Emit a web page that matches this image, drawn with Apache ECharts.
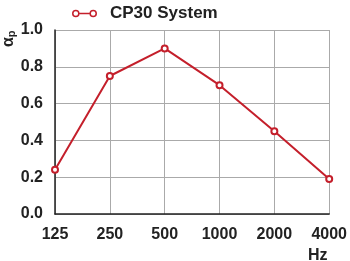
<!DOCTYPE html>
<html><head><meta charset="utf-8">
<script src="https://cdn.jsdelivr.net/npm/echarts@6/dist/echarts.min.js"></script>
<style>html,body{margin:0;padding:0;background:#fff}#c{width:350px;height:261px}</style>
</head><body><div id="c"></div>
<script>
const categories = ['125','250','500','1000','2000','4000'];
const seriesName = 'CP30 System';
const values = [0.24, 0.75, 0.90, 0.70, 0.45, 0.19];
const yTicks = [0, 0.2, 0.4, 0.6, 0.8, 1.0];

const red = '#c41f2b';
const font = 'Liberation Sans, Arial, sans-serif';
const ringIcon = 'path://M0.5 4A3.5 3.5 0 1 0 7.5 4A3.5 3.5 0 1 0 0.5 4ZM1.9 4A2.1 2.1 0 1 1 6.1 4A2.1 2.1 0 1 1 1.9 4ZM7.5 3.3L16.5 3.3L16.5 4.7L7.5 4.7ZM16.5 4A3.5 3.5 0 1 0 23.5 4A3.5 3.5 0 1 0 16.5 4ZM17.9 4A2.1 2.1 0 1 1 22.1 4A2.1 2.1 0 1 1 17.9 4Z';

const chart = echarts.init(document.getElementById('c'), null, {renderer:'canvas'});
chart.setOption({
  animation: false,
  backgroundColor: '#fff',
  textStyle: {fontFamily: font},
  grid: {left: 55, right: 13, top: 30, bottom: 47},
  legend: {
    data: [{name: seriesName, icon: ringIcon}],
    left: 67, top: 0,
    itemWidth: 25, itemHeight: 9,
    itemStyle: {color: red, borderWidth: 0},
    textStyle: {fontSize: 17, fontWeight: 'bold', color: '#222', fontFamily: font, padding: [0,0,0,8]}
  },
  xAxis: {
    type: 'category', data: categories, boundaryGap: false,
    axisLine: {lineStyle: {color: '#222', width: 1.5}},
    axisTick: {show: false},
    axisLabel: {fontSize: 16, fontWeight: 'bold', color: '#222', margin: 13, fontFamily: font},
    splitLine: {show: true, lineStyle: {color: '#aaa', width: 1}}
  },
  yAxis: {
    type: 'value', min: 0, max: 1, interval: 0.2,
    axisLine: {show: true, lineStyle: {color: '#222', width: 1.5}},
    axisTick: {show: false},
    axisLabel: {fontSize: 16, fontWeight: 'bold', color: '#222', margin: 12, fontFamily: font,
      formatter: v => v.toFixed(1)},
    splitLine: {show: true, lineStyle: {color: '#aaa', width: 1}}
  },
  graphic: [
    {type: 'text', x: 1, y: 47, rotation: Math.PI/2,
      style: {text: '{a|α}{b|p}', rich: {a:{fontSize:16,fontWeight:'bold',fill:'#222',fontFamily:font}, b:{fontSize:11,fontWeight:'bold',fill:'#222',fontFamily:font, padding:[5,0,0,0]}}}},
    {type: 'text', left: 308, top: 248, style: {text: 'Hz', fontSize: 16, fontWeight: 'bold', fill: '#222', fontFamily: font}}
  ],
  series: [{
    name: seriesName, type: 'line', data: values,
    symbol: 'emptyCircle', symbolSize: 6,
    lineStyle: {color: red, width: 2},
    itemStyle: {color: red, borderColor: red, borderWidth: 1.5},
    z: 5
  }]
});
</script></body></html>
